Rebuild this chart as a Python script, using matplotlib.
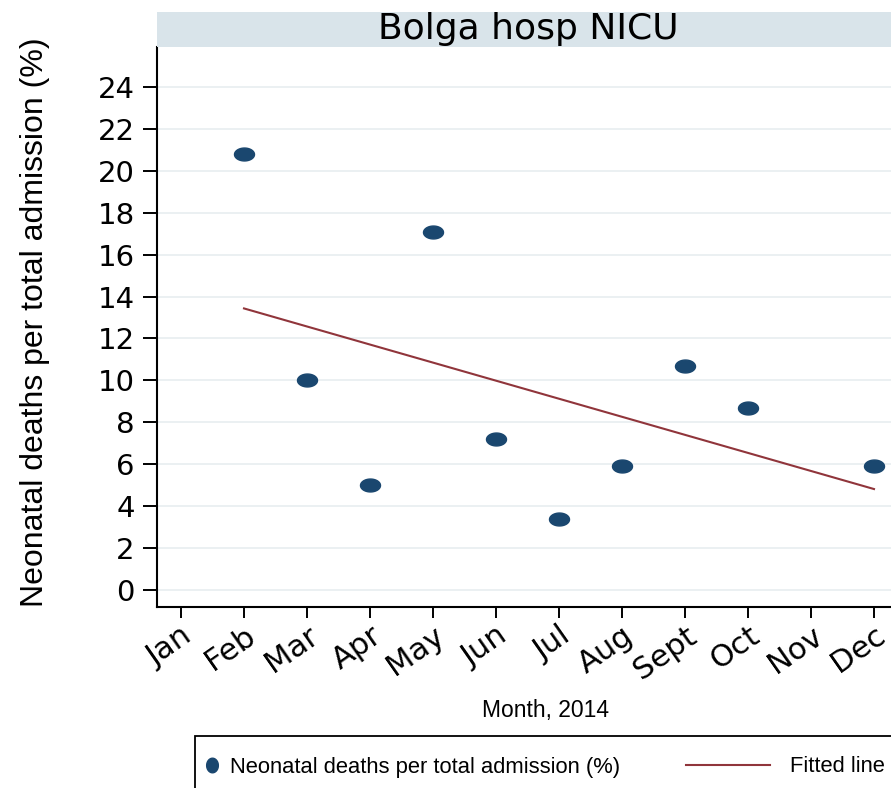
import numpy as np
import matplotlib
matplotlib.use("Agg")
import matplotlib.pyplot as plt
from matplotlib.path import Path
from matplotlib.lines import Line2D
from matplotlib.patches import Rectangle
from matplotlib import font_manager

# ---- data ----
months = ["Jan", "Feb", "Mar", "Apr", "May", "Jun", "Jul", "Aug", "Sept", "Oct", "Nov", "Dec"]
month_num = [2, 3, 4, 5, 6, 7, 8, 9, 10, 12]
deaths_pct = [20.8, 10.0, 5.0, 17.1, 7.2, 3.4, 5.9, 10.7, 8.7, 5.9]
yticks = list(range(0, 25, 2))
title = "Bolga hosp NICU"
ylabel = "Neonatal deaths per total admission (%)"
xlabel = "Month, 2014"
leg_scatter = "Neonatal deaths per total admission (%)"
leg_line = "Fitted line"

NAVY = "#1a476f"
MAROON = "#90353b"

names = {f.name for f in font_manager.fontManager.ttflist}
has_narrow = "Liberation Sans Narrow" in names
if has_narrow:
    NARROW = ["Liberation Sans Narrow", "DejaVu Sans"]
    ylab_size, xlab_size, leg_size = 27.5, 18.5, 19
else:
    NARROW = ["Liberation Sans", "DejaVu Sans"]
    ylab_size, xlab_size, leg_size = 23, 16.5, 15.8
WIDE = ["DejaVu Sans"]

W, H = 891, 788
fig = plt.figure(figsize=(W / 100, H / 100), dpi=100)

def fx(px):
    return px / W

def fy(py):
    return 1 - py / H

ax_l, ax_r, ax_t, ax_b = 157, 891, 47, 607
ax = fig.add_axes([fx(ax_l), fy(ax_b), (ax_r - ax_l) / W, (ax_b - ax_t) / H])

# ellipse markers (wide) as in the reference
th = np.linspace(0, 2 * np.pi, 80)
ell_wide = Path(np.column_stack([1.55 * np.cos(th), np.sin(th)]), closed=True)
ell_tall = Path(np.column_stack([0.8 * np.cos(th), np.sin(th)]), closed=True)

ax.plot(month_num, deaths_pct, ls="none", marker=ell_wide, ms=14.4,
        color=NAVY, mec=NAVY, zorder=3)

# fitted line
slope, icpt = np.polyfit(month_num, deaths_pct, 1)
xf = np.array([min(month_num), max(month_num)])
ax.plot(xf, icpt + slope * xf, color=MAROON, lw=1.5, zorder=2)

ax.set_xlim(1 - 24 / 63, 12 + 17 / 63)
ax.set_ylim(-17 / 20.96, (590 - 47) / 20.96)

ax.set_yticks(yticks)
ax.set_yticklabels([str(v) for v in yticks], fontfamily=WIDE, fontsize=21)
ax.set_xticks(range(1, 13))
ax.set_xticklabels(months, fontfamily=WIDE, fontsize=22, rotation=35,
                   ha="right", va="top", rotation_mode="anchor")

ax.tick_params(axis="y", length=10, width=1.4, pad=6, color="black")
ax.tick_params(axis="x", length=8, width=1.4, pad=2, color="black")

for s in ["top", "right"]:
    ax.spines[s].set_visible(False)
for s in ["left", "bottom"]:
    ax.spines[s].set_linewidth(1.5)

ax.yaxis.grid(True, color="#e8edf0", lw=1.2)
ax.set_axisbelow(True)

ax.set_ylabel(ylabel, fontfamily=NARROW, fontsize=ylab_size, va="center")
ax.yaxis.set_label_coords((35 - ax_l) / (ax_r - ax_l), (ax_b - 322) / (ax_b - ax_t))
ax.set_xlabel(xlabel, fontfamily=NARROW, fontsize=xlab_size, va="center")
ax.xaxis.set_label_coords((545 - ax_l) / (ax_r - ax_l), (ax_b - 710) / (ax_b - ax_t))

# title strip
fig.patches.append(Rectangle((fx(157), fy(47)), (891 - 157) / W, 35 / H,
                             transform=fig.transFigure, facecolor="#d9e4ea",
                             edgecolor="none", zorder=0))
fig.text(fx(528), fy(29), title, fontfamily=WIDE, fontsize=26,
         ha="center", va="center")

# legend frame
fig.patches.append(Rectangle((fx(195), fy(800)), (900 - 195) / W, 64 / H,
                             transform=fig.transFigure, facecolor="white",
                             edgecolor="black", lw=1.3, zorder=1))

h1 = Line2D([], [], ls="none", marker=ell_tall, ms=10.5, color=NAVY, mec=NAVY)
h2 = Line2D([], [], color=MAROON, lw=1.5)
fs_pt_px = leg_size * 100 / 72
leg1 = fig.legend([h1], [leg_scatter], loc="center left",
                  bbox_to_anchor=(fx(202), fy(767)), frameon=False,
                  borderpad=0, borderaxespad=0,
                  handlelength=20 / fs_pt_px, handletextpad=8 / fs_pt_px,
                  prop={"family": NARROW, "size": leg_size})
leg2 = fig.legend([h2], [leg_line], loc="center left",
                  bbox_to_anchor=(fx(686), fy(767)), frameon=False,
                  borderpad=0, borderaxespad=0,
                  handlelength=84 / fs_pt_px, handletextpad=20 / fs_pt_px,
                  prop={"family": NARROW, "size": leg_size})
leg1.set_zorder(5)
leg2.set_zorder(5)

fig.savefig("out.png", dpi=100)
